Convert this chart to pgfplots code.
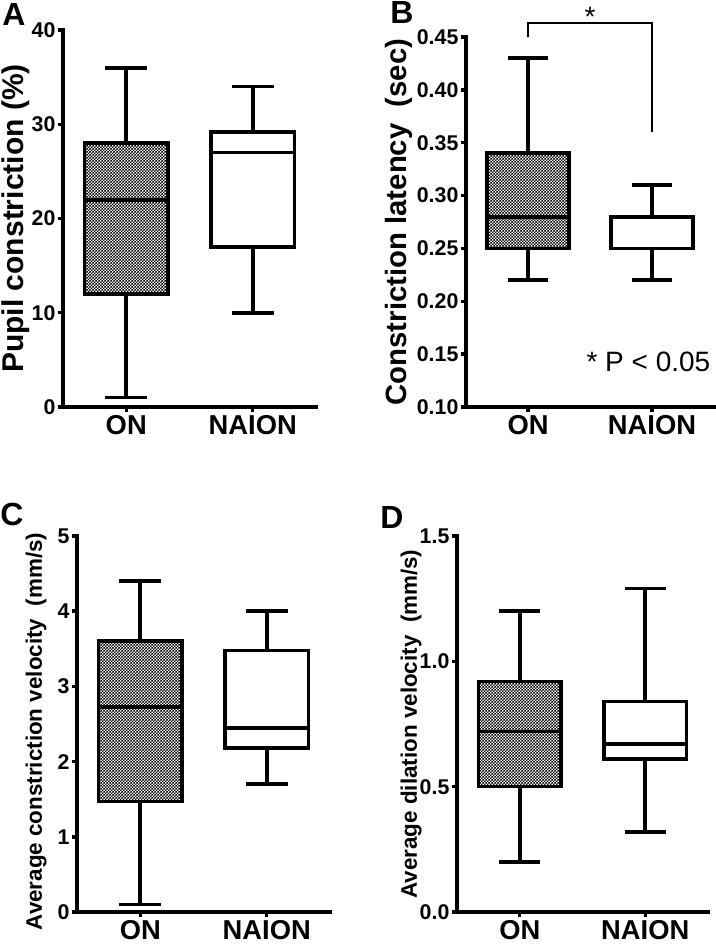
\documentclass[border=0pt]{standalone}
\usepackage{fontspec}
\setmainfont{Liberation Sans}
\usepackage{pgfplots}
\pgfplotsset{compat=1.18}
\usepgfplotslibrary{statistics}
\usetikzlibrary{patterns}

\pgfdeclarepatternformonly{finecheck}{\pgfpointorigin}{\pgfqpoint{2.2pt}{2.2pt}}{\pgfqpoint{2.2pt}{2.2pt}}{%
  \pgfpathrectangle{\pgfpointorigin}{\pgfqpoint{1.1pt}{1.1pt}}%
  \pgfpathrectangle{\pgfqpoint{1.1pt}{1.1pt}}{\pgfqpoint{1.1pt}{1.1pt}}%
  \pgfusepath{fill}}

\pgfplotsset{
  panel/.style={
    scale only axis,
    anchor=south west,
    axis lines*=left,
    axis line style={line width=2.9pt, line cap=rect},
    tick style={line width=2.6pt, black},
    tick align=outside,
    major tick length=4pt,
    minor tick num=0,
    xmin=0.5, xmax=2.5,
    xtick={1,2}, xticklabels={ON,NAION},
    /pgf/number format/assume math mode=true,
    scaled y ticks=false,
    yticklabel style={font=\fontsize{16}{19}\selectfont\bfseries, inner sep=1.5pt},
    xticklabel style={font=\fontsize{20.5}{24}\selectfont\bfseries, inner sep=2pt},
    boxplot/draw direction=y,
    clip=false,
  },
  onbox/.style={
    line width=2.7pt, black,
    boxplot/every box/.style={draw=black, line width=2.7pt, pattern=finecheck},
    boxplot/every whisker/.style={line width=2.7pt},
    boxplot/every median/.style={line width=2.8pt},
  },
  naionbox/.style={
    line width=2.7pt, black,
    boxplot/every box/.style={draw=black, line width=2.7pt, fill=white},
    boxplot/every whisker/.style={line width=2.7pt},
    boxplot/every median/.style={line width=2.8pt},
  },
}

\begin{document}
\begin{tikzpicture}
\useasboundingbox (0,0) rectangle (536.25pt,-709.5pt);

% Panel A
\begin{axis}[panel,
  at={(47.25pt,-305.25pt)}, width=189.75pt, height=282.75pt,
  ymin=0, ymax=40, ytick={0,10,20,30,40},
  ylabel={Pupil constriction (\%)},
  every axis y label/.style={at={(axis description cs:-0.186,0.5)}, rotate=90, anchor=center,
    font=\fontsize{22.5}{26}\selectfont\bfseries},
]
\addplot[onbox, boxplot prepared={lower whisker=1, lower quartile=12, median=22,
  upper quartile=28, upper whisker=36, draw position=1, box extend=0.66, whisker extend=0.33}]
  coordinates {};
\addplot[naionbox, boxplot prepared={lower whisker=10, lower quartile=17, median=27,
  upper quartile=29.2, upper whisker=34, draw position=2, box extend=0.66, whisker extend=0.33}]
  coordinates {};
\end{axis}

% Panel B
\begin{axis}[panel,
  at={(349.5pt,-305.25pt)}, width=186pt, height=277.5pt,
  ymin=0.10, ymax=0.45, ytick={0.10,0.15,0.20,0.25,0.30,0.35,0.40,0.45},
  yticklabel style={/pgf/number format/fixed, /pgf/number format/fixed zerofill,
    /pgf/number format/precision=2},
  ylabel={Constriction latency\ \ (sec)},
  every axis y label/.style={at={(axis description cs:-0.27,0.5)}, rotate=90, anchor=center,
    font=\fontsize{22}{26}\selectfont\bfseries},
]
\addplot[onbox, boxplot prepared={lower whisker=0.22, lower quartile=0.25, median=0.28,
  upper quartile=0.34, upper whisker=0.43, draw position=1, box extend=0.66, whisker extend=0.33}]
  coordinates {};
\addplot[naionbox, boxplot prepared={lower whisker=0.22, lower quartile=0.25, median=0.25,
  upper quartile=0.28, upper whisker=0.31, draw position=2, box extend=0.66, whisker extend=0.33}]
  coordinates {};
\addplot[line width=1.7pt, black, mark=none] coordinates {(1,0.45) (1,0.463) (2,0.463) (2,0.36)};
\node[font=\fontsize{21}{24}\selectfont, anchor=base] at (axis cs:1.5,0.4595) {*};
\node[font=\fontsize{21}{25}\selectfont, anchor=west, inner sep=0pt] at (axis cs:1.47,0.143) {* P < 0.05};
\end{axis}

% Panel C
\begin{axis}[panel,
  at={(57.75pt,-684pt)}, width=189.75pt, height=282pt,
  ymin=0, ymax=5, ytick={0,1,2,3,4,5},
  ylabel={Average constriction velocity\ \ (mm/s)},
  every axis y label/.style={at={(axis description cs:-0.162,0.48)}, rotate=90, anchor=center,
    font=\fontsize{16.8}{20}\selectfont\bfseries},
]
\addplot[onbox, boxplot prepared={lower whisker=0.1, lower quartile=1.47, median=2.73,
  upper quartile=3.6, upper whisker=4.4, draw position=1, box extend=0.66, whisker extend=0.33}]
  coordinates {};
\addplot[naionbox, boxplot prepared={lower whisker=1.7, lower quartile=2.18, median=2.45,
  upper quartile=3.48, upper whisker=4.0, draw position=2, box extend=0.66, whisker extend=0.33}]
  coordinates {};
\end{axis}

% Panel D
\begin{axis}[panel,
  at={(342.75pt,-684pt)}, width=188.25pt, height=282pt,
  ymin=0, ymax=1.5, ytick={0,0.5,1.0,1.5},
  yticklabel style={/pgf/number format/fixed, /pgf/number format/fixed zerofill,
    /pgf/number format/precision=1},
  ylabel={Average dilation velocity\ \ (mm/s)},
  every axis y label/.style={at={(axis description cs:-0.183,0.5)}, rotate=90, anchor=center,
    font=\fontsize{16.8}{20}\selectfont\bfseries},
]
\addplot[onbox, boxplot prepared={lower whisker=0.2, lower quartile=0.5, median=0.72,
  upper quartile=0.92, upper whisker=1.2, draw position=1, box extend=0.66, whisker extend=0.33}]
  coordinates {};
\addplot[naionbox, boxplot prepared={lower whisker=0.32, lower quartile=0.61, median=0.67,
  upper quartile=0.84, upper whisker=1.29, draw position=2, box extend=0.66, whisker extend=0.33}]
  coordinates {};
\end{axis}

% Panel letters
\node[font=\fontsize{24}{28}\selectfont\bfseries, inner sep=0pt] at (10.5pt,-10.5pt) {A};
\node[font=\fontsize{24}{28}\selectfont\bfseries, inner sep=0pt] at (301.5pt,-9.4pt) {B};
\node[font=\fontsize{24}{28}\selectfont\bfseries, inner sep=0pt] at (9pt,-385.5pt) {C};
\node[font=\fontsize{24}{28}\selectfont\bfseries, inner sep=0pt] at (294pt,-387.75pt) {D};
\end{tikzpicture}
\end{document}
